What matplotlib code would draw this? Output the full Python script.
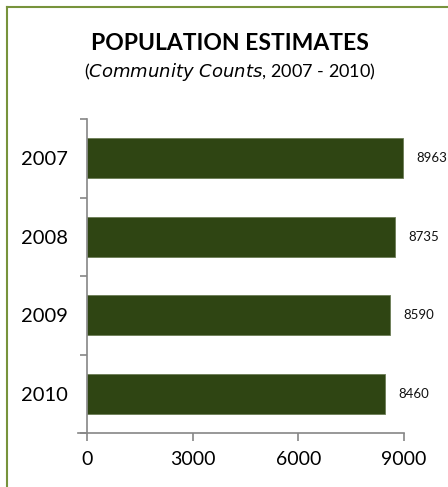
import matplotlib
matplotlib.use("Agg")
import matplotlib.pyplot as plt
from matplotlib.lines import Line2D

years = ["2007", "2008", "2009", "2010"]
population = [8963, 8735, 8590, 8460]
x_ticks = [0, 3000, 6000, 9000]

plt.rcParams['font.family'] = ['Lato', 'DejaVu Sans']

W, H = 448, 487
fig = plt.figure(figsize=(W / 100, H / 100), dpi=100)
ax = fig.add_axes([87 / W, (H - 433) / H, (404 - 87) / W, (433 - 119) / H])

bar_color = "#2f4513"
axis_color = "#868686"

ypos = list(range(len(years)))
bars = ax.barh(ypos, population, height=0.51, color=bar_color,
               edgecolor="#6b7d55", linewidth=0.6)
ax.set_ylim(len(years) - 0.5, -0.5)
ax.set_xlim(0, 9000)

for y, v in zip(ypos, population):
    ax.annotate(f"{v}", xy=(v, y), xytext=(10, 0), textcoords="offset points",
                ha="left", va="center", fontsize=9.5, color="#111111")

ax.set_xticks(x_ticks)
ax.set_xticklabels([str(t) for t in x_ticks], fontsize=14)
ax.set_yticks(ypos)
ax.set_yticklabels(years, fontsize=14.5)
ax.set_yticks([i - 0.5 for i in range(len(years) + 1)], minor=True)
ax.tick_params(axis="y", which="major", length=0, pad=14)
ax.tick_params(axis="y", which="minor", length=5, width=1.2, color=axis_color, direction="out")
ax.tick_params(axis="x", which="major", length=6, width=1.2, color=axis_color, direction="out", pad=7)

for s in ["top", "right"]:
    ax.spines[s].set_visible(False)
for s in ["left", "bottom"]:
    ax.spines[s].set_color(axis_color)
    ax.spines[s].set_linewidth(1.2)
ax.spines["bottom"].set_bounds(-250, 9000)
ax.set_xlim(0, 9000)

fig.text(230 / W, 1 - 44 / H, "POPULATION ESTIMATES", ha="center", va="center",
         fontsize=16.5, fontweight="bold", color="#000000")
fig.text(230 / W, 1 - 72 / H, r"($\it{Community\ Counts}$, 2007 - 2010)", ha="center",
         va="center", fontsize=13, color="#000000")

border = "#77933c"
fig.add_artist(Line2D([6.5 / W, 6.5 / W], [0, 1 - 7 / H], transform=fig.transFigure,
                      color=border, linewidth=1.5))
fig.add_artist(Line2D([6.5 / W, 1], [1 - 7 / H, 1 - 7 / H], transform=fig.transFigure,
                      color=border, linewidth=1.5))

fig.savefig("out.png", dpi=100)
